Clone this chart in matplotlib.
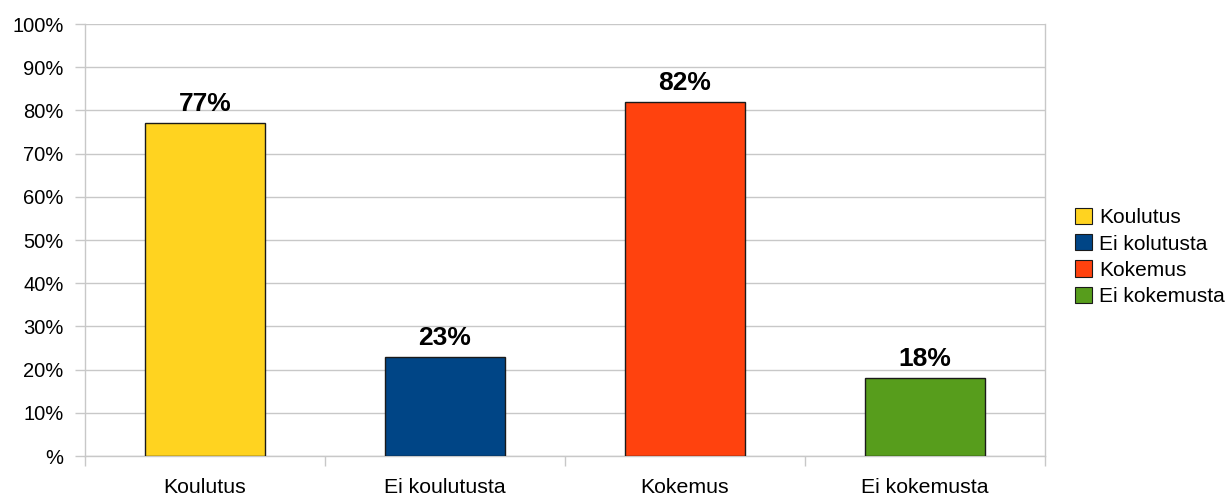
import matplotlib
matplotlib.use("Agg")
import matplotlib.pyplot as plt
from matplotlib.patches import Patch

categories = ["Koulutus", "Ei koulutusta", "Kokemus", "Ei kokemusta"]
legend_labels = ["Koulutus", "Ei kolutusta", "Kokemus", "Ei kokemusta"]
values = [77, 23, 82, 18]
colors = ["#FFD320", "#004586", "#FF420E", "#579D1C"]
y_ticks = [0, 10, 20, 30, 40, 50, 60, 70, 80, 90, 100]
y_tick_labels = ["%"] + [f"{v}%" for v in y_ticks[1:]]

plt.rcParams["font.family"] = ["Liberation Sans", "DejaVu Sans"]

fig = plt.figure(figsize=(12.30, 4.95), dpi=100)
ax = fig.add_axes([85 / 1230, 39 / 495, 960 / 1230, 432 / 495])

x = list(range(len(categories)))
ax.bar(x, values, width=0.5, color=colors, edgecolor="#1a1a1a", linewidth=1.0, zorder=3)

for xi, v in zip(x, values):
    ax.annotate(f"{v}%", (xi, v), xytext=(0, 5), textcoords="offset points",
                ha="center", va="bottom", fontsize=19, fontweight="bold", zorder=4)

ax.set_xlim(-0.5, len(categories) - 0.5)
ax.set_ylim(0, 100)
ax.set_yticks(y_ticks)
ax.set_yticklabels(y_tick_labels, fontsize=14.5)
ax.set_xticks(x)
ax.set_xticklabels(categories, fontsize=15.3)
ax.set_xticks([i - 0.5 for i in range(len(categories) + 1)], minor=True)

grid_c = "#c8c8c8"
ax.tick_params(axis="x", which="major", length=0, pad=16)
ax.tick_params(axis="x", which="minor", length=7, color=grid_c, width=1)
ax.tick_params(axis="y", length=7, color=grid_c, width=1, pad=8.5)

ax.grid(axis="y", color=grid_c, linewidth=1, zorder=0)
ax.spines["top"].set_visible(False)
for side in ["left", "right", "bottom"]:
    ax.spines[side].set_color(grid_c)
    ax.spines[side].set_linewidth(1)

handles = [Patch(facecolor=c, edgecolor="#1a1a1a", linewidth=0.8) for c in colors]
fig.legend(handles, legend_labels, loc="center left", bbox_to_anchor=(1075 / 1230, 238 / 495),
           frameon=False, fontsize=15, handlelength=0.82, handleheight=0.82,
           handletextpad=0.35, labelspacing=0.33, borderaxespad=0, borderpad=0)

fig.savefig("out.png", dpi=100)
